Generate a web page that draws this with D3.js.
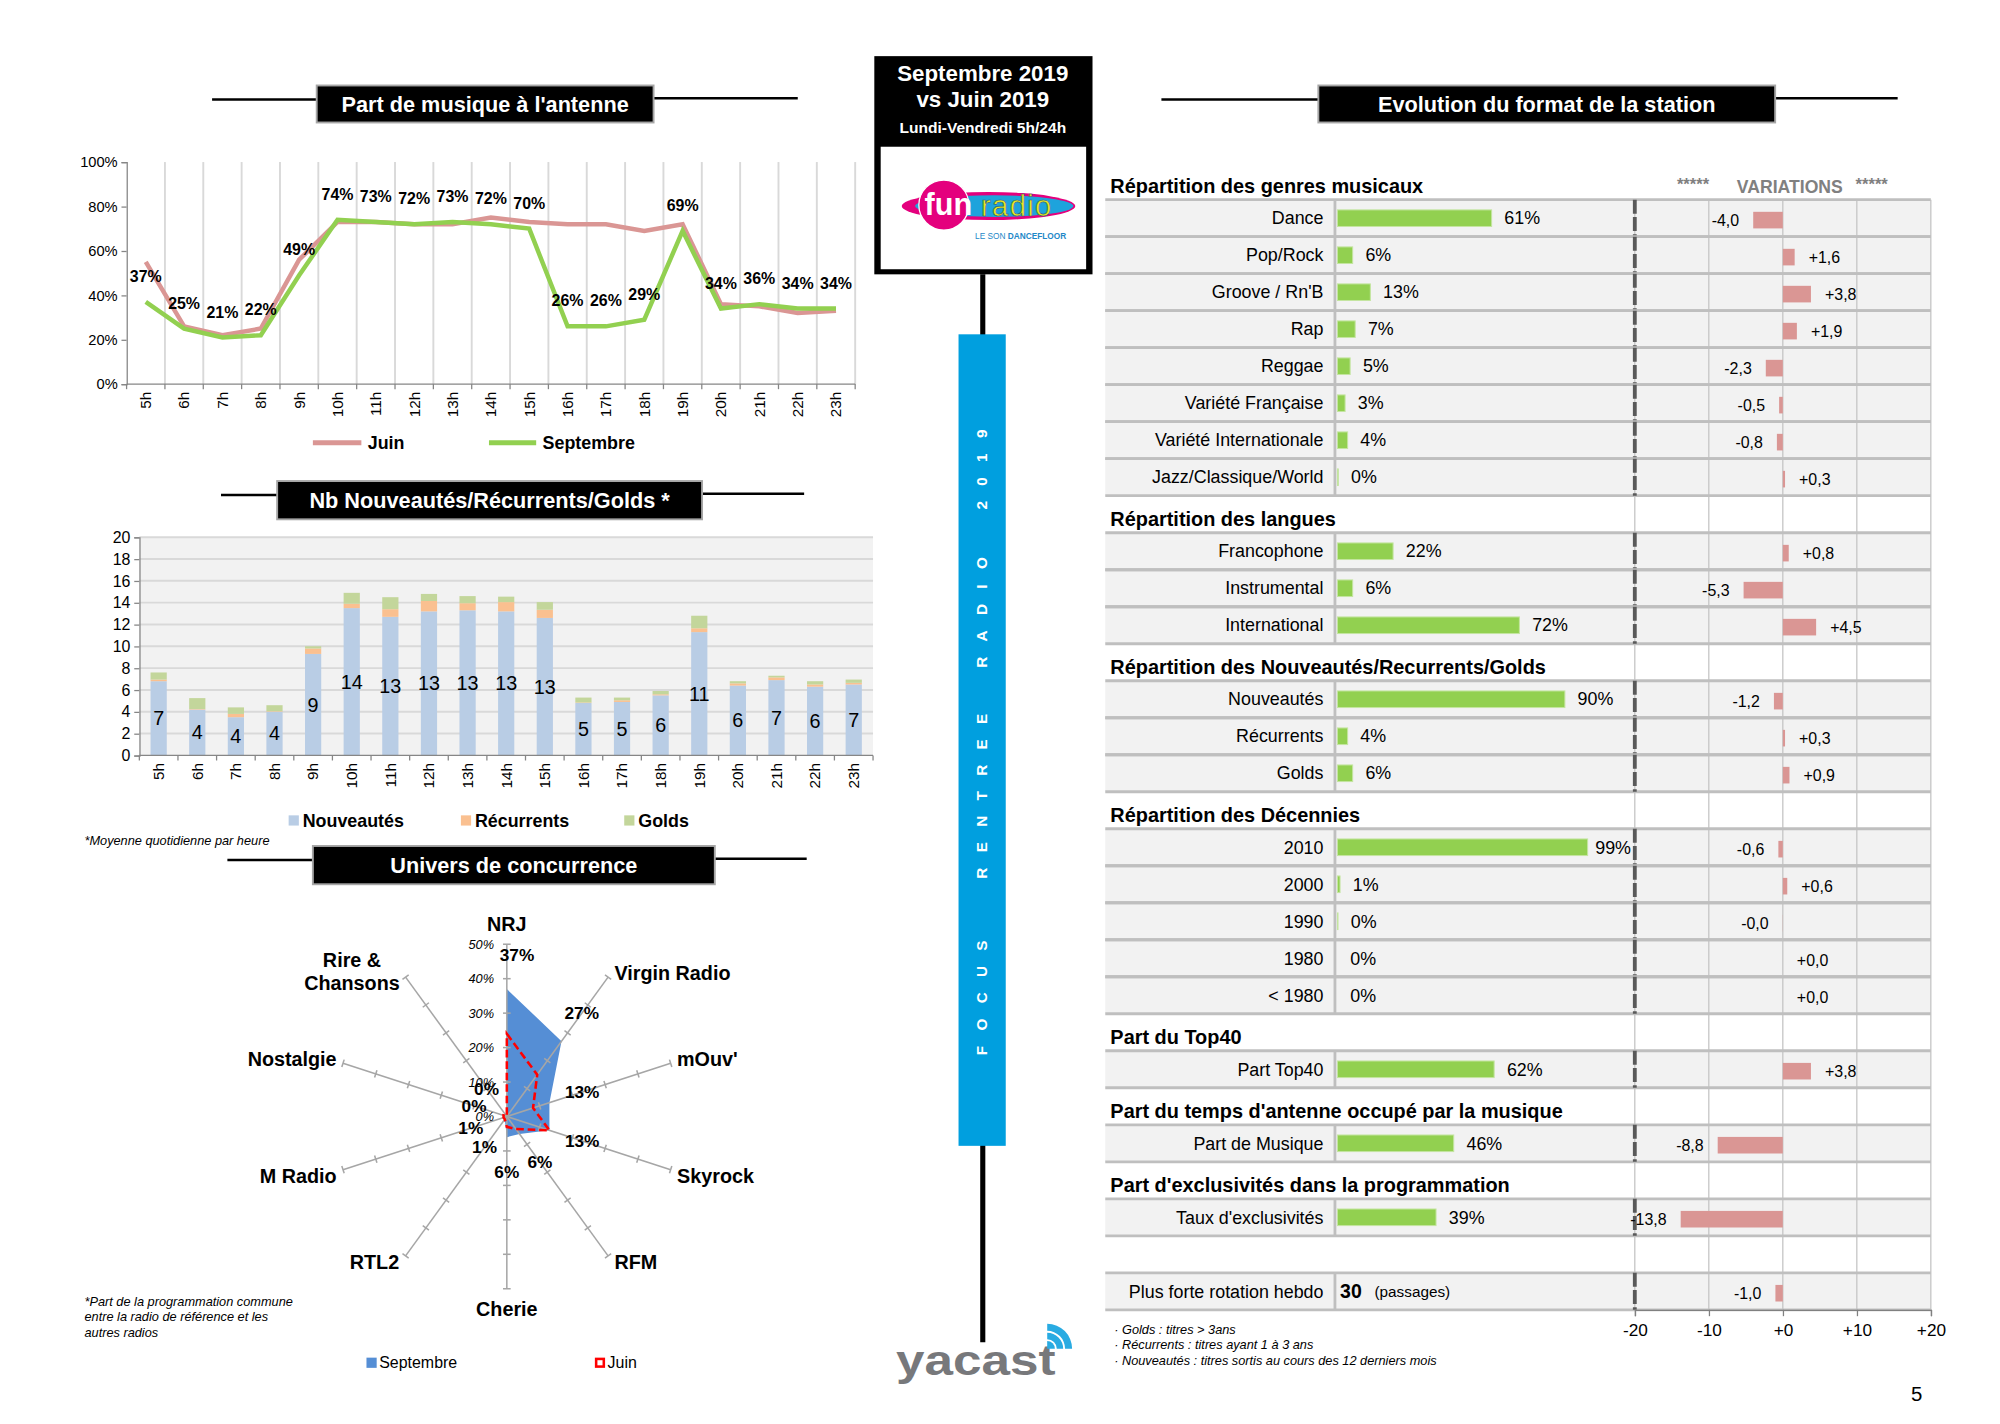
<!DOCTYPE html>
<html lang="fr">
<head>
<meta charset="UTF-8">
<title>Focus rentrée radio 2019 - Fun Radio</title>
<script src="https://d3js.org/d3.v7.min.js"></script>
<style>
  body { margin: 0; background: #fff; }
  svg { display: block; }
  text { font-family: 'Liberation Sans', Arial, Helvetica, sans-serif; }
</style>
</head>
<body>
<svg id="chart" width="2000" height="1424" viewBox="0 0 1567 1116"></svg>
<script>
// ---------- data ----------
const hours = ['5h','6h','7h','8h','9h','10h','11h','12h','13h','14h','15h','16h','17h','18h','19h','20h','21h','22h','23h'];
const musiqueJuin = [55,26,22,25,56,73,73,72,72,75,73,72,72,69,72,36,35,32,33];
const musiqueSept = [37,25,21,22,49,74,73,72,73,72,70,26,26,29,69,34,36,34,34];

const nouveautes = [6.8,4.2,3.5,4.0,9.3,13.5,12.7,13.2,13.3,13.2,12.6,4.8,4.9,5.5,11.3,6.4,6.9,6.3,6.5];
const recurrents = [0.15,0.05,0.3,0.05,0.5,0.4,0.7,0.95,0.65,0.85,0.75,0.05,0.15,0.1,0.35,0.2,0.25,0.2,0.15];
const golds      = [0.65,1.0,0.6,0.55,0.2,1.0,1.1,0.65,0.65,0.5,0.7,0.45,0.25,0.3,1.15,0.2,0.15,0.3,0.3];

const radios = ['NRJ','Virgin Radio',"mOuv'",'Skyrock','RFM','Cherie','RTL2','M Radio','Nostalgie','Rire & Chansons'];
const concSept = [37,27,13,13,6.3,6,1,1,0,0];
const concJuin = [24,15,8,13,4.5,3,1,1,1,0];

const genreLabels = ['Dance','Pop/Rock',"Groove / Rn'B",'Rap','Reggae','Variété Française','Variété Internationale','Jazz/Classique/World'];
const genrePct = [61,6,13,7,5,3,4,0.3];
const genreVar = [-4.0,1.6,3.8,1.9,-2.3,-0.5,-0.8,0.3];

const langueLabels = ['Francophone','Instrumental','International'];
const languePct = [22,6,72];
const langueVar = [0.8,-5.3,4.5];

const nrgLabels = ['Nouveautés','Récurrents','Golds'];
const nrgPct = [90,4,6];
const nrgVar = [-1.2,0.3,0.9];

const decLabels = ['2010','2000','1990','1980','< 1980'];
const decPct = [99,1,0.2,0,0];
const decVar = [-0.6,0.6,-0.02,0.0,0.0];

const top40Pct = [62], top40Var = [3.8];
const musiquePct = [46], musiqueVar = [-8.8];
const excluPct = [39], excluVar = [-13.8];
const rotationMax = 30, rotationVar = -1.0;

const varTicks = [-20,-10,0,10,20];

// ---------- helpers ----------
const svg = d3.select('#chart');
const PINK = '#DA9694', GREEN = '#92D050';

function txt(parent, x, y, s, opts = {}) {
  const t = parent.append('text').attr('x', x).attr('y', y).attr('dy', '0.35em')
    .attr('font-size', opts.size || 12)
    .attr('text-anchor', opts.anchor || 'start')
    .attr('fill', opts.fill || '#000');
  if (opts.bold) t.attr('font-weight', 'bold');
  if (opts.italic) t.attr('font-style', 'italic');
  t.text(s);
  return t;
}

function titleBox(x0, x1, y0, y1, lx0, lx1, text) {
  const ly = y0 + 11;
  svg.append('line').attr('x1', lx0).attr('x2', x0).attr('y1', ly).attr('y2', ly)
    .attr('stroke', '#000').attr('stroke-width', 2);
  svg.append('line').attr('x1', x1).attr('x2', lx1).attr('y1', ly - 1).attr('y2', ly - 1)
    .attr('stroke', '#000').attr('stroke-width', 2);
  svg.append('rect').attr('x', x0).attr('y', y0).attr('width', x1 - x0).attr('height', y1 - y0)
    .attr('fill', '#000').attr('stroke', '#A6A6A6').attr('stroke-width', 1.5);
  txt(svg, (x0 + x1) / 2, (y0 + y1) / 2 + 0.5, text, { size: 17, bold: true, anchor: 'middle', fill: '#fff' });
}

// ---------- 1. Part de musique à l'antenne ----------
titleBox(248, 512, 67, 96, 166, 625, "Part de musique à l'antenne");
{
  const x = d3.scaleBand().domain(hours).range([99, 670]);
  const y = d3.scaleLinear().domain([0, 100]).range([301, 127]);
  const g = svg.append('g');
  const bw = x.bandwidth();
  hours.forEach(h => {
    g.append('line').attr('x1', x(h) + bw).attr('x2', x(h) + bw).attr('y1', 127).attr('y2', 301)
      .attr('stroke', '#D9D9D9').attr('stroke-width', 1.5);
  });
  const ya = g.append('g').attr('transform', 'translate(99,0)')
    .call(d3.axisLeft(y).tickValues([0,20,40,60,80,100]).tickFormat(d => d + '%').tickSize(4));
  ya.selectAll('text').attr('font-size', 11.5).attr('fill', '#000');
  ya.selectAll('line,path').attr('stroke', '#868686');
  g.append('line').attr('x1', 99).attr('x2', 670).attr('y1', 301).attr('y2', 301).attr('stroke', '#868686');
  hours.forEach(h => {
    g.append('line').attr('x1', x(h)).attr('x2', x(h)).attr('y1', 301).attr('y2', 305).attr('stroke', '#868686');
    g.append('text').attr('transform', `translate(${x(h) + bw / 2},307) rotate(-90)`)
      .attr('text-anchor', 'end').attr('dy', '0.35em').attr('font-size', 12).text(h);
  });
  g.append('line').attr('x1', 670).attr('x2', 670).attr('y1', 301).attr('y2', 305).attr('stroke', '#868686');

  const line = d3.line().x((d, i) => x(hours[i]) + bw / 2).y(d => y(d));
  g.append('path').attr('d', line(musiqueJuin)).attr('fill', 'none').attr('stroke', PINK).attr('stroke-width', 3.5);
  g.append('path').attr('d', line(musiqueSept)).attr('fill', 'none').attr('stroke', GREEN).attr('stroke-width', 3.5);
  musiqueSept.forEach((v, i) => {
    txt(g, x(hours[i]) + bw / 2, y(v) - 20, v + '%', { size: 12.5, bold: true, anchor: 'middle' });
  });
  g.append('line').attr('x1', 245).attr('x2', 283).attr('y1', 347).attr('y2', 347).attr('stroke', PINK).attr('stroke-width', 4);
  txt(g, 288, 347, 'Juin', { size: 14, bold: true });
  g.append('line').attr('x1', 383).attr('x2', 420).attr('y1', 347).attr('y2', 347).attr('stroke', GREEN).attr('stroke-width', 4);
  txt(g, 425, 347, 'Septembre', { size: 14, bold: true });
}

// ---------- 2. Nb Nouveautés/Récurrents/Golds ----------
titleBox(217, 550, 377, 407, 173, 630, 'Nb Nouveautés/Récurrents/Golds *');
{
  const x = d3.scaleBand().domain(hours).range([109, 684]);
  const y = d3.scaleLinear().domain([0, 20]).range([592, 421]);
  const bw = x.bandwidth();
  const g = svg.append('g');
  g.append('rect').attr('x', 109).attr('y', 421).attr('width', 575).attr('height', 171).attr('fill', '#F2F2F2');
  d3.range(2, 21, 2).forEach(t => {
    g.append('line').attr('x1', 109).attr('x2', 684).attr('y1', y(t)).attr('y2', y(t))
      .attr('stroke', '#D9D9D9').attr('stroke-width', 1.5);
  });
  const ya = g.append('g').attr('transform', 'translate(109,0)')
    .call(d3.axisLeft(y).tickValues(d3.range(0, 21, 2)).tickSize(4));
  ya.selectAll('text').attr('font-size', 12.5).attr('fill', '#000');
  ya.selectAll('line,path').attr('stroke', '#868686');

  const rows = hours.map((h, i) => ({ h, n: nouveautes[i], r: recurrents[i], g: golds[i] }));
  const series = d3.stack().keys(['n', 'r', 'g'])(rows);
  const cols = { n: '#B9CDE5', r: '#FAC090', g: '#C3D69B' };
  series.forEach(s => {
    g.selectAll(null).data(s).enter().append('rect')
      .attr('x', d => x(d.data.h) + bw * 0.29).attr('width', bw * 0.42)
      .attr('y', d => y(d[1])).attr('height', d => y(d[0]) - y(d[1]))
      .attr('fill', cols[s.key]);
  });
  g.append('line').attr('x1', 109).attr('x2', 684).attr('y1', 592).attr('y2', 592).attr('stroke', '#868686');
  hours.forEach(h => {
    g.append('line').attr('x1', x(h)).attr('x2', x(h)).attr('y1', 592).attr('y2', 596).attr('stroke', '#868686');
    g.append('text').attr('transform', `translate(${x(h) + bw / 2},598) rotate(-90)`)
      .attr('text-anchor', 'end').attr('dy', '0.35em').attr('font-size', 12).text(h);
  });
  g.append('line').attr('x1', 684).attr('x2', 684).attr('y1', 592).attr('y2', 596).attr('stroke', '#868686');
  rows.forEach(d => {
    txt(g, x(d.h) + bw / 2, y(d.n / 2), Math.round(d.n), { size: 15.5, anchor: 'middle' });
  });
  [['Nouveautés', cols.n, 226], ['Récurrents', cols.r, 361], ['Golds', cols.g, 489]].forEach(([t, c, lx]) => {
    g.append('rect').attr('x', lx).attr('y', 639).attr('width', 8).attr('height', 8).attr('fill', c);
    txt(g, lx + 11, 643, t, { size: 14, bold: true });
  });
  txt(g, 66, 659, '*Moyenne quotidienne par heure', { size: 10, italic: true });
}

// ---------- 3. Univers de concurrence (radar) ----------
titleBox(245, 560, 663, 693, 178, 632, 'Univers de concurrence');
{
  const cx = 397, cy = 875;
  const r = d3.scaleLinear().domain([0, 50]).range([0, 135]);
  const n = radios.length;
  const ang = i => i * 2 * Math.PI / n;
  const pt = (i, v) => [cx + r(v) * Math.sin(ang(i)), cy - r(v) * Math.cos(ang(i))];
  const g = svg.append('g');
  const poly = vals => vals.map((v, i) => pt(i, v));
  g.append('path').attr('d', d3.line()(poly(concSept)) + 'Z').attr('fill', '#558ED5');
  radios.forEach((name, i) => {
    const [ex, ey] = pt(i, 50);
    g.append('line').attr('x1', cx).attr('y1', cy).attr('x2', ex).attr('y2', ey)
      .attr('stroke', '#A6A6A6').attr('stroke-width', 1.2);
    [10, 20, 30, 40, 50].forEach(t => {
      const [tx, ty] = pt(i, t);
      const px = Math.cos(ang(i)) * 3, py = Math.sin(ang(i)) * 3;
      g.append('line').attr('x1', tx - px).attr('y1', ty - py).attr('x2', tx + px).attr('y2', ty + py)
        .attr('stroke', '#A6A6A6').attr('stroke-width', 1.2);
    });
  });
  g.append('path').attr('d', d3.line()(poly(concJuin)) + 'Z').attr('fill', 'none')
    .attr('stroke', '#FF0000').attr('stroke-width', 2).attr('stroke-dasharray', '6,3');
  [0, 10, 20, 30, 40, 50].forEach(t => {
    txt(g, cx - 10, cy - r(t), t + '%', { size: 10, italic: true, anchor: 'end' });
  });
  concSept.forEach((v, i) => {
    const [px, py] = pt(i, v);
    const ox = Math.sin(ang(i)) * 27 + (i === 0 ? 8 : 0), oy = -Math.cos(ang(i)) * 27;
    txt(g, px + ox, py + oy, Math.round(v) + '%', { size: 13.5, bold: true, anchor: 'middle' });
  });
  radios.forEach((name, i) => {
    const s = Math.sin(ang(i)), c = Math.cos(ang(i));
    const [ex, ey] = pt(i, 50);
    if (Math.abs(s) < 0.1) {
      txt(g, ex, ey - c * 16, name, { size: 15.5, bold: true, anchor: 'middle' });
    } else if (name === 'Rire & Chansons') {
      txt(g, ex - 42, ey - 13, 'Rire &', { size: 15.5, bold: true, anchor: 'middle' });
      txt(g, ex - 42, ey + 5, 'Chansons', { size: 15.5, bold: true, anchor: 'middle' });
    } else {
      txt(g, ex + (s > 0 ? 5 : -5), ey + (c > 0 ? -3 : 5), name,
        { size: 15.5, bold: true, anchor: s > 0 ? 'start' : 'end' });
    }
  });
  ['*Part de la programmation commune', 'entre la radio de référence et les', 'autres radios'].forEach((l, k) => {
    txt(g, 66, 1020 + k * 12, l, { size: 10, italic: true });
  });
  g.append('rect').attr('x', 287).attr('y', 1064).attr('width', 8).attr('height', 8).attr('fill', '#558ED5');
  txt(g, 297, 1068, 'Septembre', { size: 12.5 });
  g.append('rect').attr('x', 467).attr('y', 1065).attr('width', 6).attr('height', 6).attr('fill', '#fff')
    .attr('stroke', '#FF0000').attr('stroke-width', 2);
  txt(g, 476, 1068, 'Juin', { size: 12.5 });
}

// ---------- middle column ----------
{
  const g = svg.append('g');
  g.append('line').attr('x1', 770).attr('x2', 770).attr('y1', 215).attr('y2', 1052).attr('stroke', '#000').attr('stroke-width', 4);
  g.append('rect').attr('x', 685).attr('y', 44).attr('width', 171).attr('height', 171).attr('fill', '#000');
  g.append('rect').attr('x', 690).attr('y', 115).attr('width', 161).attr('height', 96).attr('fill', '#fff');
  txt(g, 770, 57, 'Septembre 2019', { size: 17.5, bold: true, anchor: 'middle', fill: '#fff' });
  txt(g, 770, 78, 'vs Juin 2019', { size: 17.5, bold: true, anchor: 'middle', fill: '#fff' });
  txt(g, 770, 100, 'Lundi-Vendredi 5h/24h', { size: 12.2, bold: true, anchor: 'middle', fill: '#fff' });
  // fun radio logo
  g.append('ellipse').attr('cx', 774.5).attr('cy', 161.5).attr('rx', 68).attr('ry', 11)
    .attr('fill', '#E4007D');
  g.append('ellipse').attr('cx', 779).attr('cy', 161.5).attr('rx', 62).attr('ry', 8.5)
    .attr('fill', '#1EA3DC');
  g.append('circle').attr('cx', 739.5).attr('cy', 160.7).attr('r', 19.6)
    .attr('fill', '#E4007D').attr('stroke', '#fff').attr('stroke-width', 1);
  g.append('text').attr('x', 743).attr('y', 168.3).attr('text-anchor', 'middle')
    .attr('fill', '#fff').attr('font-weight', 'bold').attr('font-size', 24).text('fun');
  g.append('text').attr('x', 796.7).attr('y', 169).attr('text-anchor', 'middle')
    .attr('fill', '#E8E81E').attr('stroke', '#2F5F78').attr('stroke-width', 0.5)
    .attr('font-size', 23).attr('letter-spacing', 1).text('radio');
  const ls = g.append('text').attr('x', 764).attr('y', 187).attr('fill', '#1E88C8').attr('font-size', 6.5);
  ls.append('tspan').text('LE SON ');
  ls.append('tspan').attr('font-weight', 'bold').text('DANCEFLOOR');
  // blue band
  g.append('rect').attr('x', 751).attr('y', 262).attr('width', 37).attr('height', 636).attr('fill', '#009FDF');
  const LS = 12;
  [['FOCUS', 782], ['RENTREE', 624], ['RADIO', 480], ['2019', 368]].forEach(([w, yy]) => {
    g.append('text').attr('transform', `translate(773.5,${yy - LS / 2}) rotate(-90)`)
      .attr('text-anchor', 'middle').attr('fill', '#fff').attr('font-weight', 'bold')
      .attr('font-size', 12).attr('letter-spacing', LS).text(w);
  });
  // yacast logo
  g.append('text').attr('x', 702).attr('y', 1077.6).attr('fill', '#77787B')
    .attr('font-weight', 'bold').attr('font-size', 34)
    .attr('textLength', 125).attr('lengthAdjust', 'spacingAndGlyphs').text('yacast');
  const arc = d3.arc().startAngle(0).endAngle(Math.PI / 2);
  [[0, 6], [7.5, 12.5], [14, 19.5]].forEach(([ir, or]) => {
    g.append('path').attr('transform', 'translate(820.5,1057)')
      .attr('d', arc({ innerRadius: ir, outerRadius: or })).attr('fill', '#29ABE2');
  });
}

// ---------- 4. Evolution du format de la station ----------
titleBox(1033, 1391, 67, 96, 910, 1487, 'Evolution du format de la station');
{
  const g = svg.append('g');
  const X0 = 866, X1 = 1513, SEP = 1046, PITCH = 29;
  const slotY = k => 142 + PITCH * k;
  const px = d3.scaleLinear().domain([0, 100]).range([1048, 1246]);
  const vx = d3.scaleLinear().domain([-20, 20]).range([1281, 1513]);
  const fmtVar = v => (v < 0 ? '-' : '+') + Math.abs(v).toFixed(1).replace('.', ',');

  const blocks = [
    { title: 'Répartition des genres musicaux', slot: 0, labels: genreLabels, pct: genrePct, vars: genreVar },
    { title: 'Répartition des langues', slot: 9, labels: langueLabels, pct: languePct, vars: langueVar },
    { title: 'Répartition des Nouveautés/Recurrents/Golds', slot: 13, labels: nrgLabels, pct: nrgPct, vars: nrgVar },
    { title: 'Répartition des Décennies', slot: 17, labels: decLabels, pct: decPct, vars: decVar },
    { title: 'Part du Top40', slot: 23, labels: ['Part Top40'], pct: top40Pct, vars: top40Var },
    { title: "Part du temps d'antenne occupé par la musique", slot: 25, labels: ['Part de Musique'], pct: musiquePct, vars: musiqueVar },
    { title: "Part d'exclusivités dans la programmation", slot: 27, labels: ["Taux d'exclusivités"], pct: excluPct, vars: excluVar }
  ];
  const rowSlots = [];
  blocks.forEach(b => b.labels.forEach((l, i) => rowSlots.push(b.slot + 1 + i)));
  rowSlots.push(30);

  const yTop = slotY(1) - PITCH / 2, yBot = slotY(30) + PITCH / 2;
  rowSlots.forEach(k => {
    g.append('rect').attr('x', X0).attr('y', slotY(k) - PITCH / 2).attr('width', X1 - X0).attr('height', PITCH)
      .attr('fill', '#F2F2F2');
  });
  varTicks.forEach(t => {
    g.append('line').attr('x1', vx(t)).attr('x2', vx(t)).attr('y1', yTop).attr('y2', yBot)
      .attr('stroke', '#C4C4C4').attr('stroke-width', 1);
  });
  rowSlots.forEach(k => {
    [slotY(k) - PITCH / 2, slotY(k) + PITCH / 2].forEach(yy => {
      g.append('line').attr('x1', X0).attr('x2', X1).attr('y1', yy).attr('y2', yy)
        .attr('stroke', '#BFBFBF').attr('stroke-width', 2.2);
    });
    g.append('line').attr('x1', SEP).attr('x2', SEP).attr('y1', slotY(k) - PITCH / 2).attr('y2', slotY(k) + PITCH / 2)
      .attr('stroke', '#BFBFBF').attr('stroke-width', 2.2);
    g.append('line').attr('x1', 1281).attr('x2', 1281).attr('y1', slotY(k) - PITCH / 2).attr('y2', slotY(k) + PITCH / 2)
      .attr('stroke', '#595959').attr('stroke-width', 3).attr('stroke-dasharray', '11,2.5');
  });
  blocks.forEach(b => {
    txt(g, 870, slotY(b.slot) + 4, b.title, { size: 15.6, bold: true });
  });
  txt(g, 1314, 144.5, '*****', { size: 13, bold: true, fill: '#808080' });
  txt(g, 1361, 146.5, 'VARIATIONS', { size: 13.8, bold: true, fill: '#808080' });
  txt(g, 1454, 144.5, '*****', { size: 13, bold: true, fill: '#808080' });

  blocks.forEach(b => {
    b.labels.forEach((l, i) => {
      const yy = slotY(b.slot + 1 + i);
      txt(g, 1037, yy, l, { size: 14, anchor: 'end' });
      const p = b.pct[i];
      if (p > 0) {
        g.append('rect').attr('x', px(0)).attr('y', yy - 6.5).attr('width', px(p) - px(0)).attr('height', 13)
          .attr('fill', GREEN).attr('stroke', '#C4E5A0').attr('stroke-width', 0.8);
      }
      const pl = txt(g, px(p) + 10, yy, Math.round(p) + '%', { size: 14 });
      const tw = pl.node().getComputedTextLength();
      if (px(p) + 10 + tw > 1278) pl.attr('x', 1278 - tw);
      const v = b.vars[i];
      g.append('rect').attr('x', Math.min(vx(0), vx(v))).attr('y', yy - 5)
        .attr('width', Math.abs(vx(v) - vx(0))).attr('height', 13).attr('fill', PINK);
      txt(g, v < 0 ? vx(v) - 11 : vx(v) + 11, yy + 1.5, fmtVar(v), { size: 12.5, anchor: v < 0 ? 'end' : 'start' });
    });
  });
  const yr = slotY(30);
  txt(g, 1037, yr, 'Plus forte rotation hebdo', { size: 14, anchor: 'end' });
  txt(g, 1050, yr, rotationMax, { size: 15.3, bold: true });
  txt(g, 1077, yr, '(passages)', { size: 12 });
  g.append('rect').attr('x', vx(rotationVar)).attr('y', yr - 5).attr('width', vx(0) - vx(rotationVar))
    .attr('height', 13).attr('fill', PINK);
  txt(g, vx(rotationVar) - 11, yr + 1.5, fmtVar(rotationVar), { size: 12.5, anchor: 'end' });

  const ax = g.append('g').attr('transform', `translate(0,${yBot})`)
    .call(d3.axisBottom(vx).tickValues(varTicks).tickSize(5).tickFormat(d => (d < 0 ? '' : '+') + d));
  ax.selectAll('text').attr('font-size', 13.5).attr('fill', '#000').attr('dy', '0.9em');
  ax.selectAll('line,path').attr('stroke', '#808080');

  ['· Golds : titres > 3ans', '· Récurrents : titres ayant 1 à 3 ans', '· Nouveautés : titres sortis au cours des 12 derniers mois']
    .forEach((t, k) => txt(g, 873, 1042 + k * 12, t, { size: 10, italic: true }));
  txt(g, 1502, 1092, '5', { size: 16, anchor: 'middle' });
}
</script>
</body>
</html>
